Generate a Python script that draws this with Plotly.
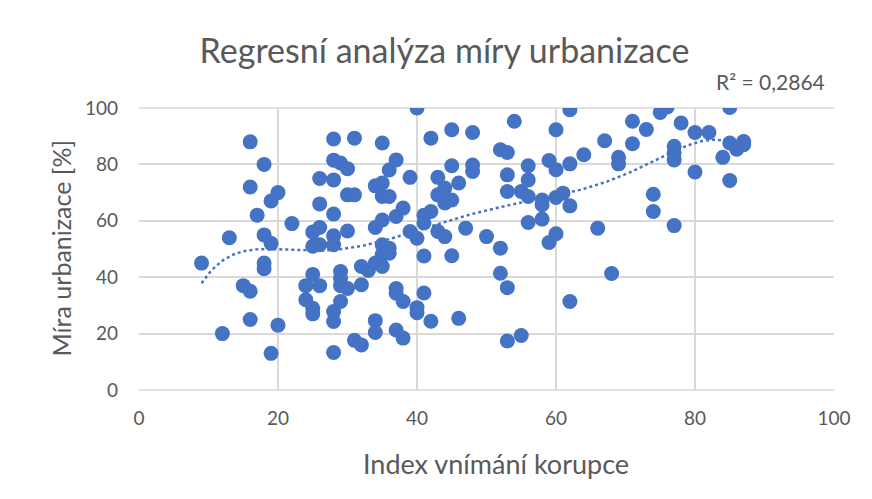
import numpy as np
import plotly.graph_objects as go

corruption_index = [
    9, 12, 13, 15, 16, 16, 16, 16, 17, 18, 18, 18, 18, 19, 19, 19, 20, 20, 22,
    24, 24, 25, 25, 25, 25, 25, 26, 26, 26, 26, 26,
    28, 28, 28, 28, 28, 28, 28, 28, 28,
    29, 30, 30, 30, 29, 29, 29, 29, 30,
    31, 31, 31, 32, 32, 32, 33,
    34, 34, 34, 34, 34, 35, 35, 35, 35, 35, 35, 35, 36, 36, 36, 36,
    37, 37, 37, 37, 37, 38, 38, 38, 39, 39,
    40, 40, 40, 40, 41, 41, 41, 41, 42, 42, 42,
    43, 43, 43, 44, 44, 44, 45, 45, 45, 45,
    46, 46, 47, 48, 48, 48,
    50, 52, 52, 52, 53, 53, 53, 53, 53, 54, 55, 55,
    56, 56, 56, 56, 58, 58, 58, 59, 59, 60, 60, 60, 60,
    61, 62, 62, 62, 62, 64, 66, 67, 68, 69, 69,
    71, 71, 73, 74, 74, 75, 76, 77, 77, 77, 77, 78,
    80, 80, 82, 84, 85, 85, 85, 86, 87, 87,
]
urbanization = [
    45, 20, 54, 37, 88, 72, 35, 25, 62, 80, 55, 45, 43, 67, 52, 13, 70, 23, 59,
    37, 32, 56, 51, 41, 29, 27, 75, 66, 57.6, 51.5, 37,
    89, 81.5, 74.5, 62.4, 54.7, 51.5, 27.8, 24.3, 13.3,
    80.5, 78.5, 69.2, 56.4, 42, 39.5, 37, 31.4, 36,
    89.3, 69.2, 17.6, 16, 43.8, 37.3, 42.4,
    72.4, 57.6, 45, 24.6, 20.4, 87.6, 73.4, 68.6, 60.3, 51.5, 48, 43.8, 78, 68.6, 50.3, 48.5,
    81.6, 61.5, 36, 34.3, 21.3, 64.5, 31.4, 18.4, 75.4, 56.2,
    100, 53.8, 29.2, 27.4, 62, 59.2, 47.5, 34.4, 89.3, 63.3, 24.4,
    75.4, 69.2, 56.2, 71.6, 66.3, 54.4, 92.3, 79.5, 67.4, 47.6,
    73.4, 25.4, 57.4, 91.3, 79.8, 77.5,
    54.4, 85.2, 50.3, 41.4, 84.2, 76.3, 70.4, 36.3, 17.4, 95.3, 70.4, 19.3,
    79.5, 74.5, 68.6, 59.4, 67.4, 65.7, 60.6, 81.4, 52.3, 92.3, 78.1, 68.3, 55.4,
    69.8, 99.4, 80.2, 65.3, 31.4, 83.4, 57.4, 88.4, 41.3, 82.5, 80.2,
    95.3, 87.3, 92.4, 69.4, 63.3, 98.4, 100.4, 86.4, 84, 81.6, 58.3, 94.7,
    91.3, 77.3, 91.3, 82.5, 100.2, 87.6, 74.3, 85.4, 88.1, 87,
]

title_text = "Regresní analýza míry urbanizace"
x_title = "Index vnímání korupce"
y_title = "Míra urbanizace [%]"
r2_label = "R² = 0,2864"
tick_values = [0, 20, 40, 60, 80, 100]
trend_degree = 6

# polynomial trendline fitted to the data (as Excel does)
xs = np.array(corruption_index, dtype=float)
ys = np.array(urbanization, dtype=float)
coef = np.polyfit(xs, ys, trend_degree)
xt = np.linspace(xs.min(), xs.max(), 200)
yt = np.polyval(coef, xt)

BLUE = "#4472C4"
GREY = "#595959"
GRID = "#d9d9d9"
FONT = "Lato"

fig = go.Figure()
fig.add_trace(go.Scatter(
    x=corruption_index, y=urbanization, mode="markers",
    marker=dict(size=15, color=BLUE, line=dict(width=0)),
    showlegend=False, hoverinfo="skip",
))
fig.add_trace(go.Scatter(
    x=xt, y=yt, mode="lines",
    line=dict(color=BLUE, width=2.5, dash="dot"),
    showlegend=False, hoverinfo="skip",
))

# page body has an 8px margin; figure sized to fit the 872x499 window
OFF = 8
W, H = 856, 483
L, T = 138.5 - OFF, 108.3 - OFF
R = W - (834 - OFF)
B = H - (390 - OFF)
pw, ph = W - L - R, H - T - B


def px(xw):
    return (xw - OFF - L) / pw


def py(yw):
    return (H - B - (yw - OFF)) / ph


fig.update_layout(
    width=W, height=H,
    margin=dict(l=L, r=R, t=T, b=B, pad=0),
    paper_bgcolor="white", plot_bgcolor="white",
    font=dict(family=FONT, color=GREY, size=19),
    title=dict(text=title_text, x=(444.5 - OFF) / W, xanchor="center",
               y=1 - (51 - OFF) / H, yanchor="middle",
               font=dict(size=34, color=GREY, family=FONT)),
    xaxis=dict(range=[0, 100], tickvals=tick_values, showgrid=True, gridcolor=GRID, gridwidth=1.5,
               zeroline=False, showline=False, ticks="", ticklabelstandoff=15,
               tickfont=dict(size=19, color=GREY)),
    yaxis=dict(range=[0, 100], tickvals=tick_values, showgrid=True, gridcolor=GRID, gridwidth=1.5,
               zeroline=False, showline=False, ticks="", ticklabelstandoff=20,
               tickfont=dict(size=19, color=GREY)),
    annotations=[
        dict(text=x_title, xref="paper", yref="paper", x=px(496), y=py(463),
             showarrow=False, xanchor="center", yanchor="middle", font=dict(size=27, color=GREY)),
        dict(text=y_title, xref="paper", yref="paper", x=px(60), y=py(248), textangle=-90,
             showarrow=False, xanchor="center", yanchor="middle", font=dict(size=25, color=GREY)),
        dict(text=r2_label, xref="paper", yref="paper", x=px(770), y=py(82),
             showarrow=False, xanchor="center", yanchor="middle", font=dict(size=21, color=GREY)),
    ],
    shapes=[
        dict(type="line", xref="paper", yref="paper", x0=0, x1=1, y0=0, y1=0,
             line=dict(color=GRID, width=1.5), layer="below"),
        dict(type="line", xref="paper", yref="paper", x0=0, x1=1, y0=1, y1=1,
             line=dict(color=GRID, width=1.5), layer="below"),
    ],
)

fig.write_html("out.html")
